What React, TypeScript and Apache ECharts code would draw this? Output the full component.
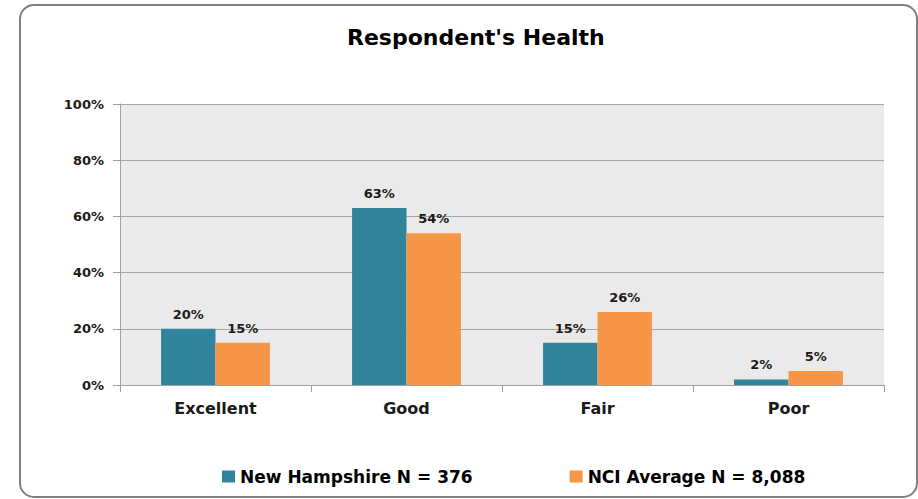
import React, { useEffect, useRef } from "react";
import * as echarts from "echarts";

const categories = ["Excellent", "Good", "Fair", "Poor"];
const newHampshire = [20, 63, 15, 2];
const nciAverage = [15, 54, 26, 5];
const seriesNames = ["New Hampshire N = 376", "NCI Average N = 8,088"];
const yTicks = { min: 0, max: 100, interval: 20 };
const title = "Respondent's Health";

const FONT = "DejaVu Sans";

export default function App() {
  const ref = useRef<HTMLDivElement>(null);
  useEffect(() => {
    if (!ref.current) return;
    const chart = echarts.init(ref.current, undefined, { renderer: "svg" });
    const label = {
      show: true,
      position: "top",
      distance: 8,
      formatter: "{c}%",
      color: "#1a1a1a",
      fontFamily: FONT,
      fontWeight: "bold",
      fontSize: 13,
    };
    chart.setOption({
      animation: false,
      backgroundColor: "#ffffff",
      textStyle: { fontFamily: FONT },
      graphic: [
        {
          type: "rect",
          shape: { x: 20, y: 5, width: 897, height: 492, r: 14 },
          style: { fill: "none", stroke: "#7f7f7f", lineWidth: 2 },
          z: -1,
        },
      ],
      title: {
        text: title,
        left: 342,
        top: 21,
        textStyle: { fontFamily: FONT, fontWeight: "bold", fontSize: 22, color: "#000000" },
      },
      legend: {
        bottom: 9,
        left: 217,
        itemWidth: 13,
        itemHeight: 12,
        itemGap: 97,
        icon: "rect",
        textStyle: { fontFamily: FONT, fontWeight: "bold", fontSize: 17, color: "#000000" },
        data: seriesNames,
      },
      grid: {
        left: 120,
        right: 34,
        top: 104,
        bottom: 114,
        show: true,
        backgroundColor: "#eaeaea",
        borderWidth: 0,
      },
      xAxis: {
        type: "category",
        data: categories,
        axisLine: { show: true, lineStyle: { color: "#a0a0a0", width: 1 } },
        axisTick: { show: true, alignWithLabel: false, length: 7, lineStyle: { color: "#a0a0a0" } },
        axisLabel: { margin: 15, fontFamily: FONT, fontWeight: "bold", fontSize: 16, color: "#1a1a1a" },
      },
      yAxis: {
        type: "value",
        min: yTicks.min,
        max: yTicks.max,
        interval: yTicks.interval,
        axisLine: { show: true, lineStyle: { color: "#a0a0a0", width: 1 } },
        axisTick: { show: true, length: 7, lineStyle: { color: "#a0a0a0" } },
        axisLabel: { margin: 16, formatter: "{value}%", fontFamily: FONT, fontWeight: "bold", fontSize: 13, color: "#1a1a1a" },
        splitLine: { show: true, lineStyle: { color: "#a6a6a6", width: 1 } },
      },
      series: [
        {
          name: seriesNames[0],
          type: "bar",
          data: newHampshire,
          barGap: "0%",
          barCategoryGap: "43%",
          itemStyle: { color: "#31849b" },
          label,
        },
        {
          name: seriesNames[1],
          type: "bar",
          data: nciAverage,
          itemStyle: { color: "#f79646" },
          label,
        },
      ],
    });
    return () => chart.dispose();
  }, []);
  return (
    <div
      ref={ref}
      style={{ position: "fixed", left: 0, top: 0, width: 918, height: 499 }}
    />
  );
}
